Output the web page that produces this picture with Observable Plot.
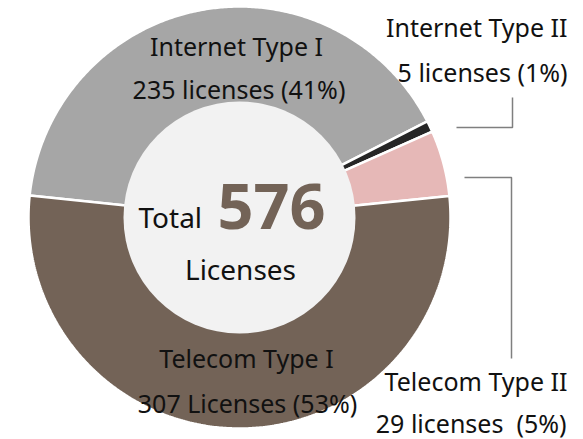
<!DOCTYPE html>
<html>
<head>
<meta charset="utf-8">
<script src="https://cdn.jsdelivr.net/npm/d3@7"></script>
<script src="https://cdn.jsdelivr.net/npm/@observablehq/plot@0.6"></script>
<style>
  html, body { margin: 0; padding: 0; background: #ffffff; }
  #chart svg text { white-space: pre; }
</style>
</head>
<body>
<div id="chart"></div>
<script>
// ---- data ----
const categories = ["Internet Type I", "Internet Type II", "Telecom Type II", "Telecom Type I"];
const licenses = [235, 5, 29, 307];
const countLabels = ["235 licenses (41%)", "5 licenses (1%)", "29 licenses  (5%)", "307 Licenses (53%)"];
const sliceColors = ["#a6a6a6", "#262626", "#e6b8b7", "#736357"];
const centerWords = ["Total", "Licenses"];

// ---- layout (pixels) ----
const W = 583, H = 439;
const CX = 239, CY = 217, R_OUT = 211, R_IN = 116;
const START = -84 * Math.PI / 180;

const pie = d3.pie().sort(null).startAngle(START).endAngle(START + 2 * Math.PI)(licenses);

// annular slice outlines in pixel space
const slicePts = [];
pie.forEach((p, i) => {
  const n = Math.max(4, Math.ceil((p.endAngle - p.startAngle) / (Math.PI / 360)));
  for (let k = 0; k <= n; k++) {
    const a = p.startAngle + (p.endAngle - p.startAngle) * k / n;
    slicePts.push({cat: categories[i], color: sliceColors[i], x: CX + R_OUT * Math.sin(a), y: CY - R_OUT * Math.cos(a)});
  }
  for (let k = n; k >= 0; k--) {
    const a = p.startAngle + (p.endAngle - p.startAngle) * k / n;
    slicePts.push({cat: categories[i], color: sliceColors[i], x: CX + (R_IN - 4) * Math.sin(a), y: CY - (R_IN - 4) * Math.cos(a)});
  }
});

// label placement (layout)
const namePos = [
  {x: 236, y: 55, anchor: "middle"},
  {x: 567, y: 36, anchor: "end"},
  {x: 567, y: 390, anchor: "end"},
  {x: 246, y: 367, anchor: "middle"}
];
const countPos = [
  {x: 238.5, y: 98, anchor: "middle"},
  {x: 567, y: 81, anchor: "end"},
  {x: 566, y: 432, anchor: "end"},
  {x: 247, y: 412, anchor: "middle"}
];
const labels = [];
categories.forEach((c, i) => {
  labels.push({text: c, ...namePos[i]});
  labels.push({text: countLabels[i], ...countPos[i]});
});

// leader lines for the small slices (layout)
const leaders = [
  {id: "a", x: 456, y: 127}, {id: "a", x: 512, y: 127}, {id: "a", x: 512, y: 97},
  {id: "b", x: 464, y: 177}, {id: "b", x: 511, y: 177}, {id: "b", x: 511, y: 358}
];

const total = d3.sum(licenses);

const chart = Plot.plot({
  width: W,
  height: H,
  margin: 0,
  x: {domain: [0, W], range: [0, W], axis: null},
  y: {domain: [0, H], range: [0, H], axis: null},
  color: {type: "identity"},
  style: {fontFamily: "'Noto Sans', sans-serif", background: "#ffffff", color: "#000"},
  marks: [
    Plot.line(slicePts, {x: "x", y: "y", z: "cat", fill: "color", stroke: "#ffffff", strokeWidth: 2.5, curve: "linear-closed", strokeLinejoin: "miter"}),
    Plot.dot([{x: CX, y: CY}], {x: "x", y: "y", r: R_IN, fill: "#f2f2f2", stroke: "none"}),
    Plot.line(leaders, {x: "x", y: "y", z: "id", stroke: "#7f7f7f", strokeWidth: 1.5, strokeLinecap: "butt", strokeLinejoin: "miter"}),
    Plot.text(labels.filter(d => d.anchor === "middle"), {x: "x", y: "y", text: "text", textAnchor: "middle", lineAnchor: "bottom", fontSize: 25, fill: "#111"}),
    Plot.text(labels.filter(d => d.anchor === "end"), {x: "x", y: "y", text: "text", textAnchor: "end", lineAnchor: "bottom", fontSize: 25, fill: "#111"}),
    Plot.text([centerWords[0]], {x: () => 138, y: () => 227, text: d => d, textAnchor: "start", lineAnchor: "bottom", fontSize: 28, fill: "#111"}),
    Plot.text([total], {x: () => 217, y: () => 228, text: d => String(d), textAnchor: "start", lineAnchor: "bottom", fontSize: 63, fontWeight: "bold", fill: "#736357"}),
    Plot.text([centerWords[1]], {x: () => 240, y: () => 279, text: d => d, textAnchor: "middle", lineAnchor: "bottom", fontSize: 28, fill: "#111"})
  ]
});
document.getElementById("chart").appendChild(chart);
</script>
</body>
</html>
